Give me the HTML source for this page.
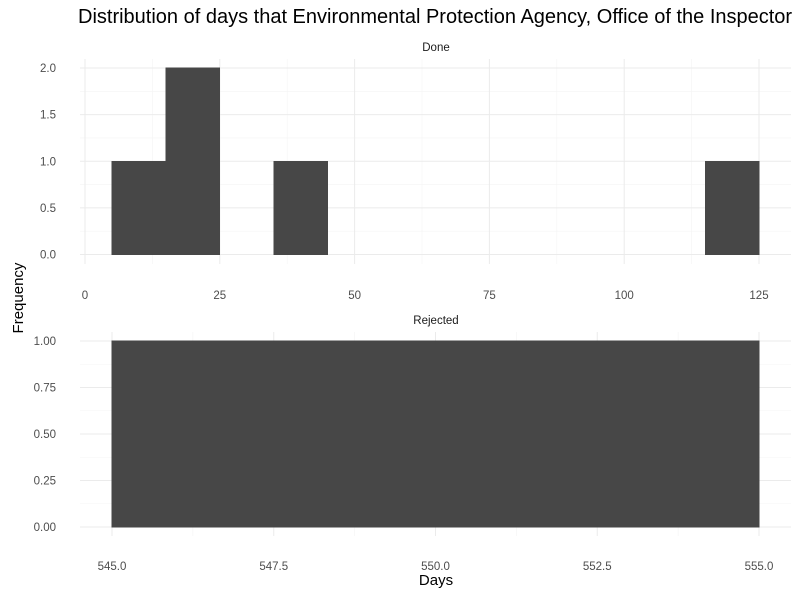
<!DOCTYPE html>
<html><head><meta charset="utf-8"><style>
body{margin:0;background:#fff;}
svg{display:block;font-family:"Liberation Sans",sans-serif;}
</style></head><body>
<svg id="c" width="800" height="600">
<text x="78" y="23" font-size="20" fill="#000">Distribution of days that Environmental Protection Agency, Office of the Inspector</text>
<text x="436" y="51" font-size="11.5" fill="#1a1a1a" text-anchor="middle">Done</text>
<text x="436" y="324" font-size="11.5" fill="#1a1a1a" text-anchor="middle">Rejected</text>
<text x="0" y="0" font-size="15" fill="#000" text-anchor="middle" transform="translate(23,298) rotate(-90)">Frequency</text>
<text x="436" y="585" font-size="15" fill="#000" text-anchor="middle">Days</text>
</svg>
<script>
const doneBinStarts=[5,15,35,115];
const doneCounts=[1,2,1,1];
const doneXTicks=[0,25,50,75,100,125];
const doneYTicks=[0,0.5,1,1.5,2];
const doneYLabels=["0.0","0.5","1.0","1.5","2.0"];
const rejBinStarts=[545];
const rejCounts=[1];
const rejXTicks=[545,547.5,550,552.5,555];
const rejXLabels=["545.0","547.5","550.0","552.5","555.0"];
const rejYTicks=[0,0.25,0.5,0.75,1];
const rejYLabels=["0.00","0.25","0.50","0.75","1.00"];
const binWidth=10;
const svg=document.getElementById('c');
const NS='http://www.w3.org/2000/svg';
function mk(t,a){const e=document.createElementNS(NS,t);for(const k in a)e.setAttribute(k,a[k]);svg.appendChild(e);return e;}
function panel(p){
  const sx=v=>p.x0+(v-p.d0)/(p.d1-p.d0)*(p.x1-p.x0);
  const sy=v=>p.y0-(v-p.r0)/(p.r1-p.r0)*(p.y0-p.y1);
  for(let i=0;i<p.xt.length-1;i++){const v=(p.xt[i]+p.xt[i+1])/2;const l=mk('line',{x1:sx(v),x2:sx(v),y1:p.top,y2:p.bot,stroke:'#f4f4f4','stroke-width':0.6});
    
    }
  for(let i=0;i<p.yt.length-1;i++){const v=(p.yt[i]+p.yt[i+1])/2;const l=mk('line',{x1:80,x2:791,y1:sy(v),y2:sy(v),stroke:'#f4f4f4','stroke-width':0.6});
    
    }
  p.xt.forEach((v,i)=>{const l=mk('line',{x1:sx(v),x2:sx(v),y1:p.top,y2:p.bot,stroke:'#ebebeb','stroke-width':1});
    
    
    const t=mk('text',{x:sx(v),y:p.labY,'font-size':11.5,fill:'#4d4d4d','text-anchor':'middle'});t.textContent=p.xl[i];
    
    });
  p.yt.forEach((v,i)=>{const l=mk('line',{x1:80,x2:791,y1:sy(v),y2:sy(v),stroke:'#ebebeb','stroke-width':1});
    
    
    const t=mk('text',{x:56,y:sy(v)+4,'font-size':11.5,fill:'#4d4d4d','text-anchor':'end'});t.textContent=p.yl[i];
    
    });
  p.bs.forEach((b,i)=>{const r=mk('rect',{x:sx(b),y:sy(p.c[i]),width:sx(b+binWidth)-sx(b),height:sy(0)-sy(p.c[i]),fill:'#474747',stroke:'#474747','stroke-width':0.6,'shape-rendering':'crispEdges'});
    
    });
}
panel({x0:85,x1:759,d0:0,d1:125,y0:254.5,y1:68,r0:0,r1:2,top:59,bot:264,labY:299,xt:doneXTicks,xl:doneXTicks.map(String),yt:doneYTicks,yl:doneYLabels,bs:doneBinStarts,c:doneCounts});
panel({x0:112,x1:759,d0:545,d1:555,y0:527,y1:341,r0:0,r1:1,top:332,bot:536,labY:570,xt:rejXTicks,xl:rejXLabels,yt:rejYTicks,yl:rejYLabels,bs:rejBinStarts,c:rejCounts});
</script>
</body></html>
